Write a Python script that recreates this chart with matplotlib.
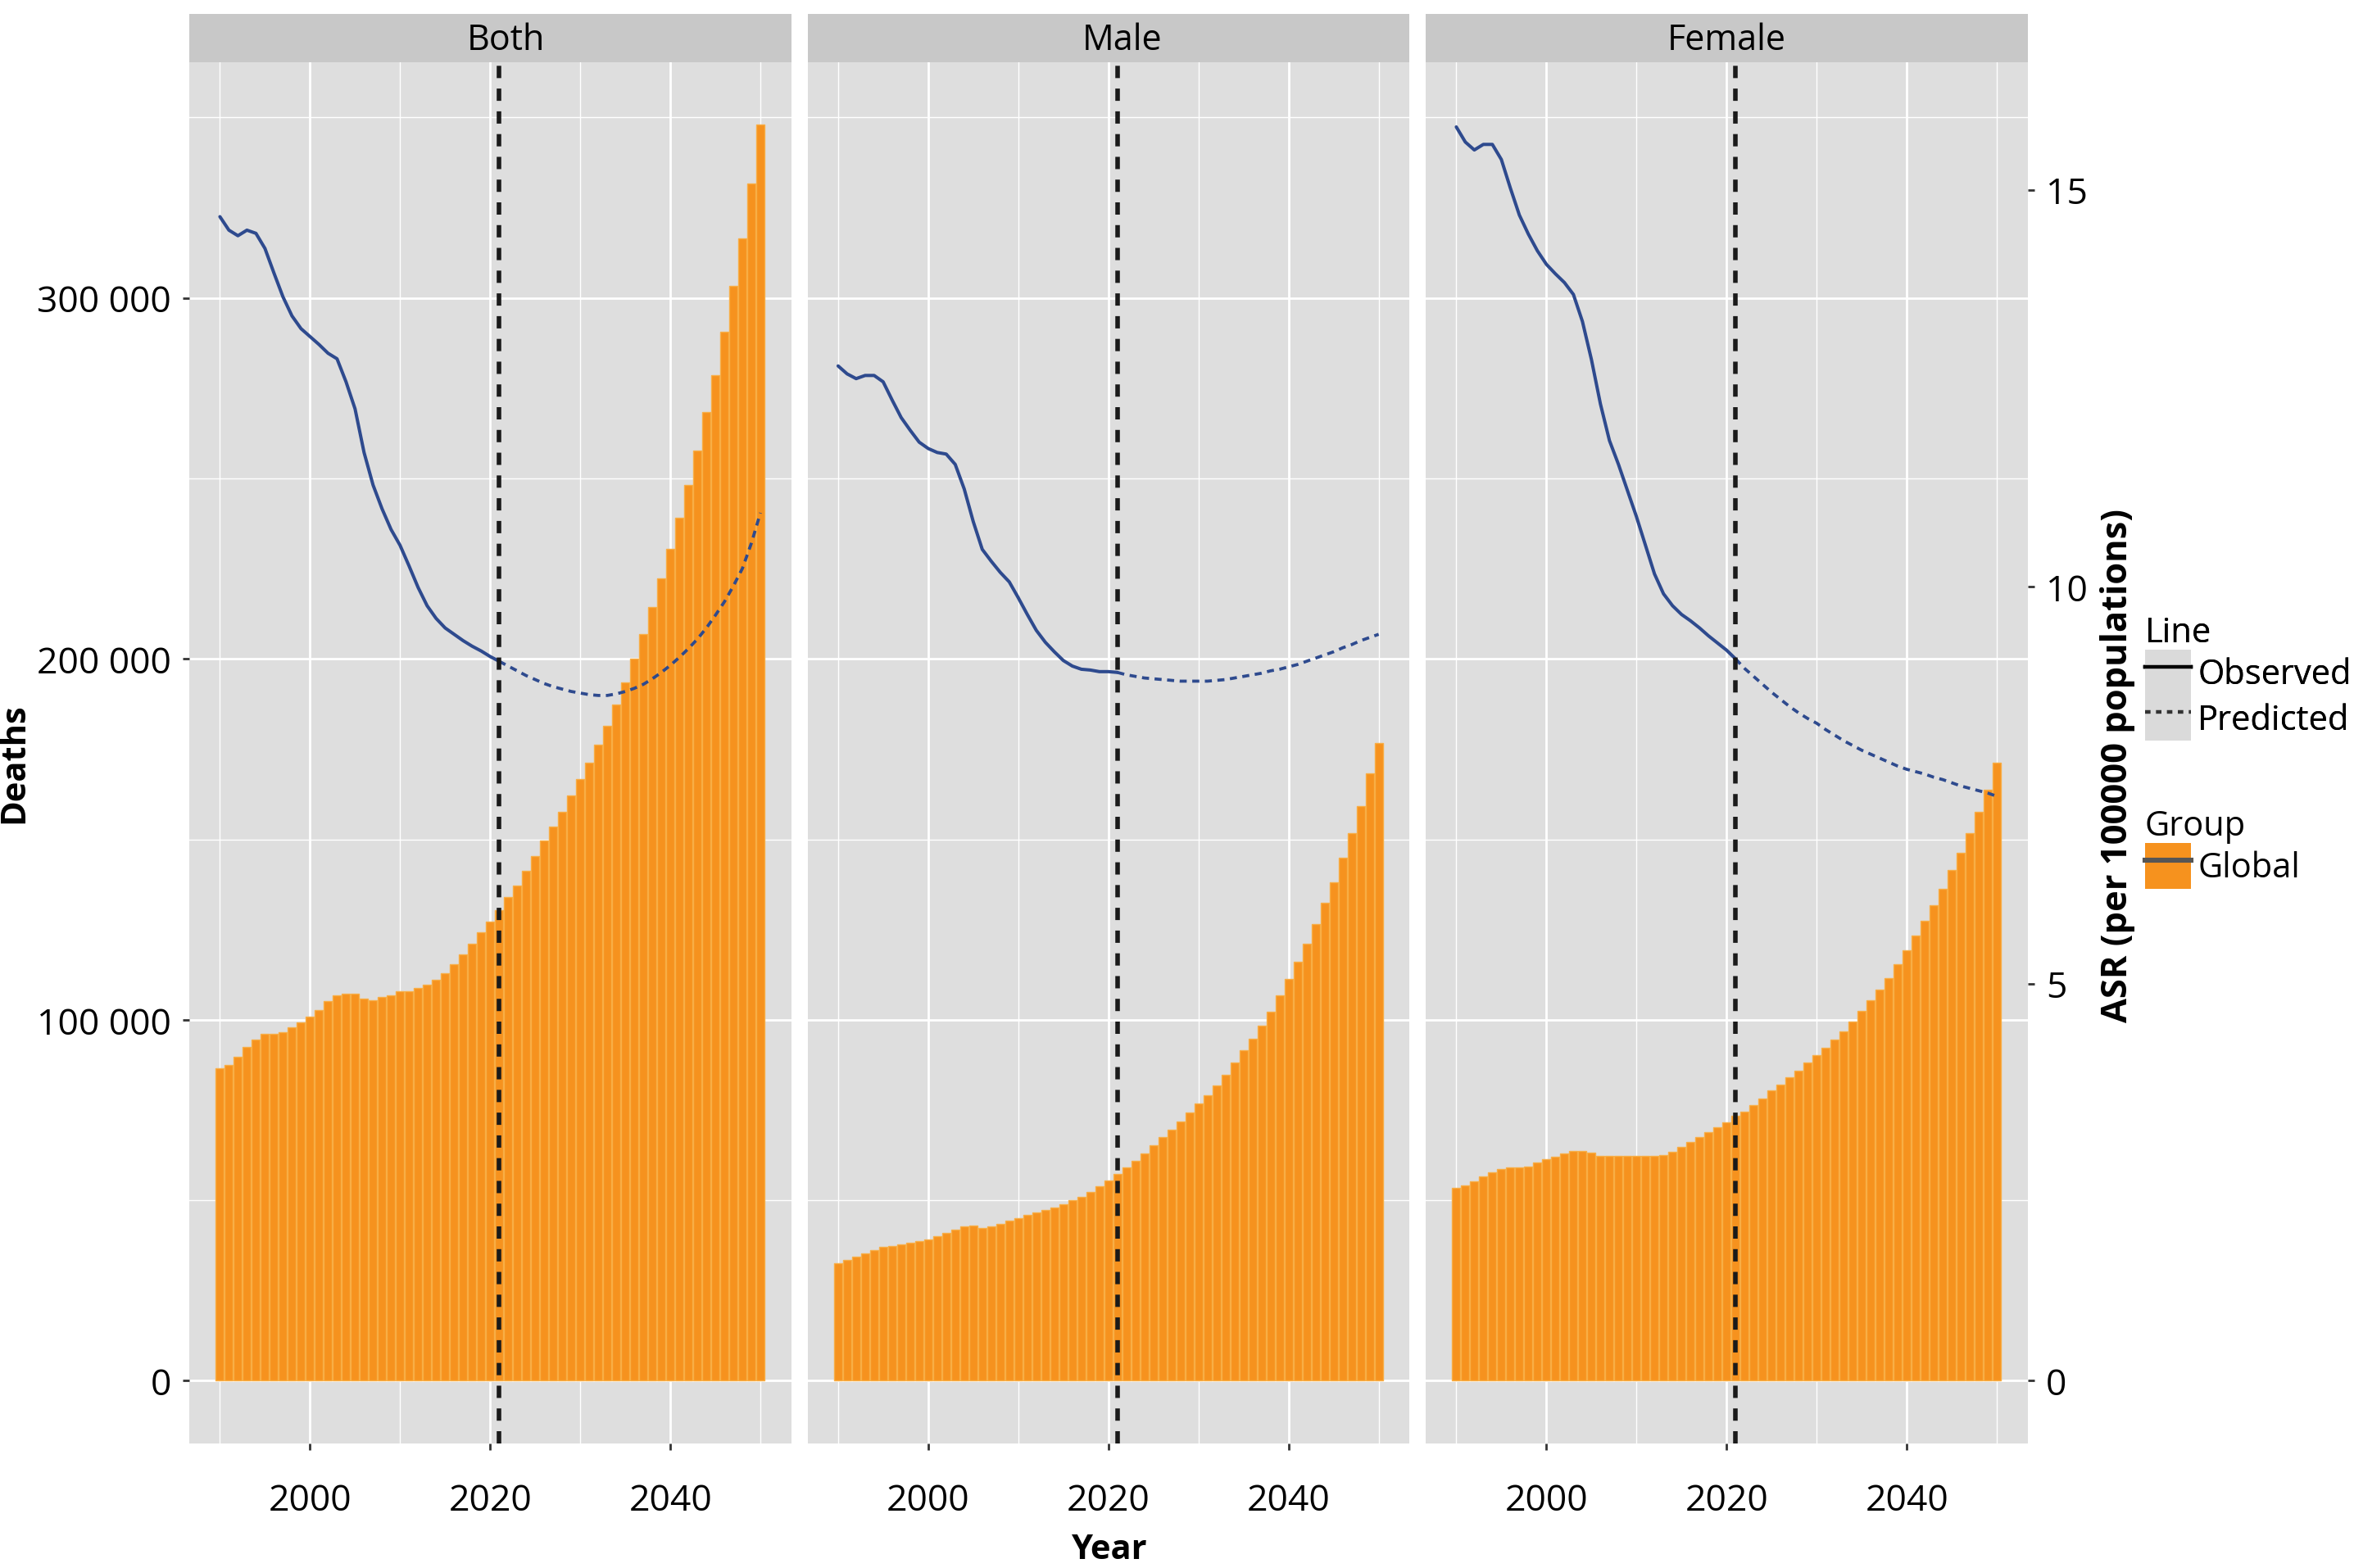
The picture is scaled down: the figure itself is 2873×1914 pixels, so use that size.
import matplotlib
matplotlib.use("Agg")
import matplotlib.pyplot as plt
import numpy as np
from matplotlib.patches import Patch
from matplotlib.lines import Line2D
from matplotlib.legend_handler import HandlerTuple
from matplotlib.ticker import FuncFormatter, FixedLocator

plt.rcParams['font.family'] = ['Open Sans', 'DejaVu Sans']

# ---------------- data ----------------
years = list(range(1990, 2051))
panels = ["Both", "Male", "Female"]

deaths_both = [86.5, 87.4, 89.7, 92.4, 94.4, 96.0, 96.2, 96.6, 98.0, 99.3,
               100.9, 102.7, 105.2, 106.7, 107.2, 107.2, 105.8, 105.4, 106.3, 106.7,
               107.8, 108.0, 108.7, 109.6, 111.0, 113.0, 115.5, 118.2, 121.0, 124.2,
               127.1, 130.3, 133.9, 137.2, 141.3, 145.3, 149.6, 153.6, 157.6, 162.1,
               166.6, 171.3, 176.2, 181.4, 187.4, 193.5, 200.0, 206.9, 214.3, 222.2,
               230.5, 239.0, 248.2, 257.6, 268.4, 278.7, 290.6, 303.4, 316.4, 331.8,
               348.0]
deaths_male = [32.5, 33.4, 34.3, 35.2, 36.1, 37.0, 37.4, 37.7, 38.1, 38.6,
               39.2, 40.1, 41.0, 41.9, 42.8, 43.0, 42.4, 42.8, 43.5, 44.4,
               45.1, 46.0, 46.6, 47.3, 48.0, 48.9, 50.0, 50.9, 52.2, 53.8,
               55.4, 57.2, 59.0, 61.0, 63.0, 65.2, 67.5, 69.5, 71.7, 74.2,
               76.7, 79.1, 81.8, 84.8, 88.1, 91.5, 94.8, 98.4, 102.2, 106.7,
               111.4, 116.1, 121.1, 126.5, 132.3, 138.1, 144.8, 151.6, 159.2, 168.2,
               176.7]
deaths_female = [53.4, 54.0, 55.2, 56.7, 57.8, 58.7, 59.0, 59.2, 59.4, 60.5,
                 61.4, 62.1, 63.0, 63.7, 63.7, 63.2, 62.3, 62.3, 62.3, 62.3,
                 62.3, 62.3, 62.3, 62.6, 63.5, 64.8, 66.2, 67.6, 68.9, 70.2,
                 71.5, 73.3, 74.6, 76.3, 78.2, 80.4, 82.0, 84.1, 85.9, 88.1,
                 90.2, 92.2, 94.4, 96.8, 99.4, 102.4, 105.5, 108.4, 111.6, 115.5,
                 119.2, 123.4, 127.5, 131.7, 136.3, 141.5, 146.3, 151.7, 157.6, 163.7,
                 171.3]

obs_years = list(range(1990, 2022))
pred_years = list(range(2021, 2051))

asr_obs_both = [14.66, 14.49, 14.42, 14.49, 14.45, 14.26, 13.95, 13.65, 13.41, 13.25,
                13.15, 13.05, 12.94, 12.87, 12.58, 12.24, 11.69, 11.28, 10.98, 10.72,
                10.52, 10.26, 9.99, 9.76, 9.60, 9.48, 9.40, 9.32, 9.25, 9.19,
                9.12, 9.06]
asr_pred_both = [9.06, 9.00, 8.94, 8.88, 8.83, 8.78, 8.74, 8.71, 8.68, 8.66,
                 8.64, 8.63, 8.63, 8.65, 8.68, 8.72, 8.77, 8.84, 8.92, 9.01,
                 9.11, 9.22, 9.34, 9.48, 9.64, 9.81, 10.01, 10.23, 10.55, 10.93]
asr_obs_male = [12.78, 12.68, 12.62, 12.66, 12.66, 12.58, 12.35, 12.13, 11.97, 11.82,
                11.74, 11.69, 11.67, 11.54, 11.23, 10.82, 10.47, 10.32, 10.18, 10.06,
                9.86, 9.65, 9.45, 9.30, 9.18, 9.07, 9.00, 8.96, 8.95, 8.93,
                8.93, 8.92]
asr_pred_male = [8.92, 8.89, 8.87, 8.85, 8.84, 8.83, 8.82, 8.81, 8.81, 8.81,
                 8.81, 8.82, 8.83, 8.85, 8.87, 8.89, 8.91, 8.94, 8.96, 8.99,
                 9.02, 9.06, 9.10, 9.14, 9.18, 9.23, 9.27, 9.32, 9.36, 9.40]
asr_obs_female = [15.79, 15.60, 15.50, 15.57, 15.57, 15.38, 15.02, 14.68, 14.44, 14.23,
                  14.06, 13.94, 13.83, 13.68, 13.34, 12.86, 12.30, 11.84, 11.54, 11.21,
                  10.88, 10.52, 10.16, 9.91, 9.76, 9.65, 9.57, 9.48, 9.38, 9.29,
                  9.20, 9.09]
asr_pred_female = [9.09, 8.97, 8.87, 8.77, 8.67, 8.58, 8.49, 8.41, 8.34, 8.28,
                   8.20, 8.13, 8.06, 8.00, 7.94, 7.89, 7.84, 7.79, 7.74, 7.70,
                   7.67, 7.64, 7.60, 7.57, 7.53, 7.49, 7.46, 7.43, 7.40, 7.36]

cut_year = 2021
asr_scale = 22000  # deaths per ASR unit on secondary axis

deaths = {"Both": deaths_both, "Male": deaths_male, "Female": deaths_female}
asr_obs = {"Both": asr_obs_both, "Male": asr_obs_male, "Female": asr_obs_female}
asr_pred = {"Both": asr_pred_both, "Male": asr_pred_male, "Female": asr_pred_female}

# ---------------- style ----------------
W, H = 2873, 1915
DPI = 200
fig = plt.figure(figsize=(W / DPI, H / DPI), dpi=DPI)

panel_bg = '#DEDEDE'
strip_bg = '#C8C8C8'
bar_col = '#F6921E'
bar_edge = '#F8AE45'
line_col = '#2E4A8E'
tick_col = '#333333'

lefts = [231, 985.5, 1740]
strip_dx = [19, 17, 0]
pw = 734.5
ptop, pbot = 77, 1763
strip_top = 18

ylim = (-17400, 365300)
xlim = (1986.6, 2053.4)

for i, name in enumerate(panels):
    l = lefts[i] / W
    b = (H - pbot) / H
    h = (pbot - ptop) / H
    ax = fig.add_axes([l, b, pw / W, h])
    ax.set_facecolor(panel_bg)
    for s in ax.spines.values():
        s.set_visible(False)
    ax.set_axisbelow(True)

    vals = np.array(deaths[name]) * 1000
    ax.bar(years, vals, width=0.92, color=bar_col, edgecolor=bar_edge,
           linewidth=0.5, zorder=2)

    ax.set_xlim(*xlim)
    ax.set_ylim(*ylim)
    ax.xaxis.set_major_locator(FixedLocator([2000, 2020, 2040]))
    ax.xaxis.set_minor_locator(FixedLocator([1990, 2010, 2030, 2050]))
    ax.yaxis.set_major_locator(FixedLocator([0, 100000, 200000, 300000]))
    ax.yaxis.set_minor_locator(FixedLocator([50000, 150000, 250000, 350000]))
    ax.grid(which='major', color='white', linewidth=1.0)
    ax.grid(which='minor', color='white', linewidth=0.5)
    ax.yaxis.set_major_formatter(FuncFormatter(lambda v, p: f"{int(v):,}".replace(",", " ")))

    tw = ax.twinx()
    tw.set_ylim(ylim[0] / asr_scale, ylim[1] / asr_scale)
    for s in tw.spines.values():
        s.set_visible(False)
    tw.plot(obs_years, asr_obs[name], color=line_col, lw=1.45, zorder=3,
            solid_joinstyle='round', solid_capstyle='round')
    tw.plot(pred_years, asr_pred[name], color=line_col, lw=1.35, zorder=3,
            linestyle=(0, (2.3, 1.8)))
    tw.axvline(cut_year, color='#1a1a1a', lw=2.0, linestyle=(0, (2.7, 2.3)), zorder=4)
    tw.yaxis.set_major_locator(FixedLocator([0, 5, 10, 15]))

    # tick styling (after twinx, which resets left ticks)
    ax.tick_params(which='minor', length=0)
    ax.tick_params(which='major', colors=tick_col, length=3, width=1.0,
                   labelsize=16, labelcolor='black')
    ax.tick_params(axis='x', pad=14)
    ax.tick_params(axis='y', pad=5, right=False, labelright=False)
    if i > 0:
        ax.tick_params(axis='y', left=False, labelleft=False)
    if i == 2:
        tw.tick_params(axis='y', colors=tick_col, length=3, width=1.0,
                       labelsize=16, labelcolor='black', pad=5,
                       left=False, labelleft=False)
    else:
        tw.tick_params(axis='y', right=False, labelright=False,
                       left=False, labelleft=False)

    # facet strip
    sax = fig.add_axes([l, (H - ptop) / H, pw / W, (ptop - strip_top) / H])
    sax.set_facecolor(strip_bg)
    sax.set_xticks([])
    sax.set_yticks([])
    for s in sax.spines.values():
        s.set_visible(False)
    sax.text(0.5 + strip_dx[i] / pw, 0.47, name, ha='center', va='center',
             fontsize=15.5, transform=sax.transAxes)

# axis titles
fig.text(18 / W, 1 - 932 / H, "Deaths", rotation=90, ha='center', va='center',
         fontsize=15, fontweight='bold')
fig.text(1354 / W, 1 - 1893 / H, "Year", ha='center', va='center',
         fontsize=15, fontweight='bold')
fig.text(2584 / W, 1 - 934 / H, "ASR (per 100000 populations)", rotation=90,
         ha='center', va='center', fontsize=15.6, fontweight='bold')

# legends
key_bg = '#DADADA'
h_obs = (Patch(facecolor=key_bg, edgecolor='none'),
         Line2D([], [], color='black', lw=1.6))
h_pred = (Patch(facecolor=key_bg, edgecolor='none'),
          Line2D([], [], color='#333333', lw=1.6, linestyle=(0, (1.5, 1.5))))
h_glob = (Patch(facecolor=bar_col, edgecolor='none'),
          Line2D([], [], color='#555555', lw=2.2))
hm = {tuple: HandlerTuple(ndivide=1, pad=0)}

common = dict(loc='upper left', frameon=False, fontsize=15, title_fontsize=15,
              handlelength=1.34, handleheight=1.68, labelspacing=0.0,
              handletextpad=0.2, borderpad=0, borderaxespad=0,
              alignment='left', handler_map=hm)
leg1 = fig.legend([h_obs, h_pred], ["Observed", "Predicted"], title="Line",
                  bbox_to_anchor=(2618 / W, 1 - 752 / H), **common)
leg2 = fig.legend([h_glob], ["Global"], title="Group",
                  bbox_to_anchor=(2618 / W, 1 - 988 / H), **common)
fig.add_artist(leg1)

fig.savefig("out.png", dpi=DPI, facecolor='white')
